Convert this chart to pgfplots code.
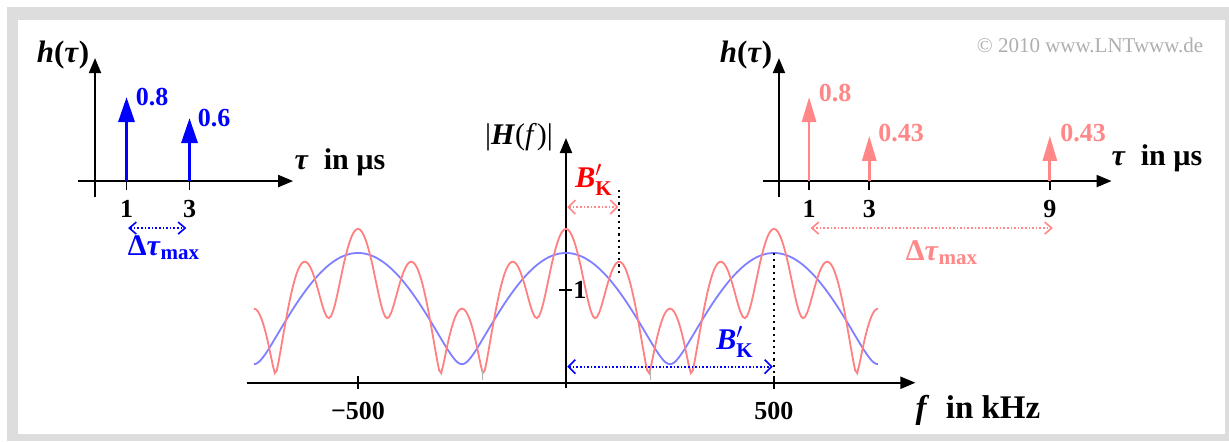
\documentclass[border=0pt]{standalone}
\usepackage{fontspec}
\setmainfont{Liberation Serif}
\usepackage{amsmath}
\usepackage{pgfplots}
\pgfplotsset{compat=1.18}
\usepackage{pgfplotstable}
\usetikzlibrary{arrows.meta}

\definecolor{cred}{RGB}{255,128,128}
\definecolor{cblue}{RGB}{128,128,255}
\definecolor{ablue}{RGB}{0,0,255}
\definecolor{ared}{RGB}{255,135,135}
\definecolor{bred}{RGB}{255,0,0}
\definecolor{framec}{RGB}{221,221,221}
\definecolor{copyc}{RGB}{175,175,175}

\pgfplotstableread{
f r b
-750 0.800 0.200
-745 0.791 0.205
-740 0.766 0.218
-735 0.723 0.239
-730 0.665 0.265
-725 0.592 0.295
-720 0.506 0.328
-715 0.408 0.362
-710 0.301 0.398
-705 0.192 0.435
-700 0.104 0.473
-695 0.135 0.510
-690 0.248 0.548
-685 0.376 0.586
-680 0.506 0.623
-675 0.633 0.660
-670 0.755 0.697
-665 0.869 0.733
-660 0.973 0.769
-655 1.065 0.804
-650 1.144 0.839
-645 1.209 0.873
-640 1.257 0.906
-635 1.289 0.938
-630 1.305 0.969
-625 1.303 1.000
-620 1.285 1.030
-615 1.250 1.058
-610 1.201 1.086
-605 1.139 1.113
-600 1.066 1.139
-595 0.986 1.163
-590 0.903 1.187
-585 0.824 1.209
-580 0.757 1.231
-575 0.711 1.251
-570 0.696 1.270
-565 0.716 1.287
-560 0.770 1.304
-555 0.850 1.319
-550 0.946 1.333
-545 1.052 1.346
-540 1.159 1.357
-535 1.267 1.367
-530 1.360 1.376
-525 1.447 1.383
-520 1.521 1.389
-515 1.581 1.394
-510 1.625 1.397
-505 1.651 1.399
-500 1.660 1.400
-495 1.651 1.399
-490 1.625 1.397
-485 1.581 1.394
-480 1.521 1.389
-475 1.447 1.383
-470 1.360 1.376
-465 1.267 1.367
-460 1.159 1.357
-455 1.052 1.346
-450 0.946 1.333
-445 0.850 1.319
-440 0.770 1.304
-435 0.716 1.287
-430 0.696 1.270
-425 0.711 1.251
-420 0.757 1.231
-415 0.824 1.209
-410 0.903 1.187
-405 0.986 1.163
-400 1.066 1.139
-395 1.139 1.113
-390 1.201 1.086
-385 1.250 1.058
-380 1.285 1.030
-375 1.303 1.000
-370 1.305 0.969
-365 1.289 0.938
-360 1.257 0.906
-355 1.209 0.873
-350 1.144 0.839
-345 1.065 0.804
-340 0.973 0.769
-335 0.869 0.733
-330 0.755 0.697
-325 0.633 0.660
-320 0.506 0.623
-315 0.376 0.586
-310 0.248 0.548
-305 0.135 0.510
-300 0.104 0.473
-295 0.192 0.435
-290 0.301 0.398
-285 0.408 0.362
-280 0.506 0.328
-275 0.592 0.295
-270 0.665 0.265
-265 0.723 0.239
-260 0.766 0.218
-255 0.791 0.205
-250 0.800 0.200
-245 0.791 0.205
-240 0.766 0.218
-235 0.723 0.239
-230 0.665 0.265
-225 0.592 0.295
-220 0.506 0.328
-215 0.408 0.362
-210 0.301 0.398
-205 0.192 0.435
-200 0.104 0.473
-195 0.135 0.510
-190 0.248 0.548
-185 0.376 0.586
-180 0.506 0.623
-175 0.633 0.660
-170 0.755 0.697
-165 0.869 0.733
-160 0.973 0.769
-155 1.065 0.804
-150 1.144 0.839
-145 1.209 0.873
-140 1.257 0.906
-135 1.289 0.938
-130 1.305 0.969
-125 1.303 1.000
-120 1.285 1.030
-115 1.250 1.058
-110 1.201 1.086
-105 1.139 1.113
-100 1.066 1.139
-95 0.986 1.163
-90 0.903 1.187
-85 0.824 1.209
-80 0.757 1.231
-75 0.711 1.251
-70 0.696 1.270
-65 0.716 1.287
-60 0.770 1.304
-55 0.850 1.319
-50 0.946 1.333
-45 1.052 1.346
-40 1.159 1.357
-35 1.267 1.367
-30 1.360 1.376
-25 1.447 1.383
-20 1.521 1.389
-15 1.581 1.394
-10 1.625 1.397
-5 1.651 1.399
0 1.660 1.400
5 1.651 1.399
10 1.625 1.397
15 1.581 1.394
20 1.521 1.389
25 1.447 1.383
30 1.360 1.376
35 1.267 1.367
40 1.159 1.357
45 1.052 1.346
50 0.946 1.333
55 0.850 1.319
60 0.770 1.304
65 0.716 1.287
70 0.696 1.270
75 0.711 1.251
80 0.757 1.231
85 0.824 1.209
90 0.903 1.187
95 0.986 1.163
100 1.066 1.139
105 1.139 1.113
110 1.201 1.086
115 1.250 1.058
120 1.285 1.030
125 1.303 1.000
130 1.305 0.969
135 1.289 0.938
140 1.257 0.906
145 1.209 0.873
150 1.144 0.839
155 1.065 0.804
160 0.973 0.769
165 0.869 0.733
170 0.755 0.697
175 0.633 0.660
180 0.506 0.623
185 0.376 0.586
190 0.248 0.548
195 0.135 0.510
200 0.104 0.473
205 0.192 0.435
210 0.301 0.398
215 0.408 0.362
220 0.506 0.328
225 0.592 0.295
230 0.665 0.265
235 0.723 0.239
240 0.766 0.218
245 0.791 0.205
250 0.800 0.200
255 0.791 0.205
260 0.766 0.218
265 0.723 0.239
270 0.665 0.265
275 0.592 0.295
280 0.506 0.328
285 0.408 0.362
290 0.301 0.398
295 0.192 0.435
300 0.104 0.473
305 0.135 0.510
310 0.248 0.548
315 0.376 0.586
320 0.506 0.623
325 0.633 0.660
330 0.755 0.697
335 0.869 0.733
340 0.973 0.769
345 1.065 0.804
350 1.144 0.839
355 1.209 0.873
360 1.257 0.906
365 1.289 0.938
370 1.305 0.969
375 1.303 1.000
380 1.285 1.030
385 1.250 1.058
390 1.201 1.086
395 1.139 1.113
400 1.066 1.139
405 0.986 1.163
410 0.903 1.187
415 0.824 1.209
420 0.757 1.231
425 0.711 1.251
430 0.696 1.270
435 0.716 1.287
440 0.770 1.304
445 0.850 1.319
450 0.946 1.333
455 1.052 1.346
460 1.159 1.357
465 1.267 1.367
470 1.360 1.376
475 1.447 1.383
480 1.521 1.389
485 1.581 1.394
490 1.625 1.397
495 1.651 1.399
500 1.660 1.400
505 1.651 1.399
510 1.625 1.397
515 1.581 1.394
520 1.521 1.389
525 1.447 1.383
530 1.360 1.376
535 1.267 1.367
540 1.159 1.357
545 1.052 1.346
550 0.946 1.333
555 0.850 1.319
560 0.770 1.304
565 0.716 1.287
570 0.696 1.270
575 0.711 1.251
580 0.757 1.231
585 0.824 1.209
590 0.903 1.187
595 0.986 1.163
600 1.066 1.139
605 1.139 1.113
610 1.201 1.086
615 1.250 1.058
620 1.285 1.030
625 1.303 1.000
630 1.305 0.969
635 1.289 0.938
640 1.257 0.906
645 1.209 0.873
650 1.144 0.839
655 1.065 0.804
660 0.973 0.769
665 0.869 0.733
670 0.755 0.697
675 0.633 0.660
680 0.506 0.623
685 0.376 0.586
690 0.248 0.548
695 0.135 0.510
700 0.104 0.473
705 0.192 0.435
710 0.301 0.398
715 0.408 0.362
720 0.506 0.328
725 0.592 0.295
730 0.665 0.265
735 0.723 0.239
740 0.766 0.218
745 0.791 0.205
750 0.800 0.200
}\hdata

\pgfplotsset{
  myaxis/.style={
    axis lines=middle,
    axis line style={line width=1pt,-{Triangle[length=7.5pt,width=6pt]}},
    clip=false,
    tick style={black,line width=0.8pt},
  },
}

\begin{document}
\begin{tikzpicture}
\useasboundingbox (0,0) rectangle (614.5pt,220.5pt);
\fill[white] (0,0) rectangle (614.5pt,220.5pt);
\fill[framec] (3.5pt,0pt) rectangle (614.5pt,217pt);
\fill[white] (9pt,3.5pt) rectangle (612.5pt,210.5pt);

% ---------- main axis |H(f)|
\begin{axis}[myaxis,
  at={(123.25pt,26.35pt)}, anchor=south west,
  x=0.208pt, y=46.35pt,
  xmin=-768, xmax=840, ymin=-0.06, ymax=2.64,
  xtick={-500,500}, xticklabels={−500,500},
  ytick={1}, yticklabels={},
  tick align=center, major tick length=6.5pt,
  xticklabel style={font=\fontsize{13}{13}\selectfont\bfseries, yshift=-3pt},
]
\addplot[cblue, line width=0.9pt] table[x=f,y=b] {\hdata};
\addplot[cred, line width=0.9pt] table[x=f,y=r] {\hdata};
\addplot[black, dotted, line width=1.1pt] coordinates {(128,2.08) (128,1.16)};
\addplot[black, dotted, line width=1.1pt] coordinates {(500,1.40) (500,0)};
\addplot[gray!60, line width=0.6pt] coordinates {(-200,0.03) (-200,0.14)};
\addplot[gray!60, line width=0.6pt] coordinates {(204,0.03) (204,0.14)};
\addplot[ared, densely dotted, line width=0.8pt,
  {Straight Barb[length=3.5pt,width=7pt]}-{Straight Barb[length=3.5pt,width=7pt]}]
  coordinates {(3,1.895) (126,1.895)};
\addplot[ablue, densely dotted, line width=0.8pt,
  {Straight Barb[length=3.5pt,width=7pt]}-{Straight Barb[length=3.5pt,width=7pt]}]
  coordinates {(3,0.173) (497,0.173)};
\node[anchor=west, inner sep=0pt, xshift=3.5pt, font=\fontsize{13}{13}\selectfont\bfseries] at (axis cs:0,1) {1};
\end{axis}

% ---------- left inset
\begin{axis}[myaxis,
  at={(39pt,122pt)}, anchor=south west,
  x=15.75pt, y=52.5pt,
  xmin=-0.54, xmax=6.29, ymin=-0.152, ymax=1.171,
  xtick={1,3}, xticklabels={1,3}, ytick=\empty,
  tick align=outside, major tick length=4.5pt,
  xticklabel style={font=\fontsize{13}{13}\selectfont\bfseries, yshift=-1.5pt},
]
\addplot[ablue, line width=1.6pt, -{Triangle[length=12.5pt,width=8pt]}] coordinates {(1,0) (1,0.8)};
\addplot[ablue, line width=1.6pt, -{Triangle[length=12.5pt,width=8pt]}] coordinates {(3,0) (3,0.6)};
\addplot[ablue, densely dotted, line width=0.8pt,
  {Straight Barb[length=3.5pt,width=6pt]}-{Straight Barb[length=3.5pt,width=6pt]}]
  coordinates {(1.05,-0.448) (2.9,-0.448)};
\end{axis}

% ---------- right inset
\begin{axis}[myaxis,
  at={(381.35pt,122pt)}, anchor=south west,
  x=15.05pt, y=52.5pt,
  xmin=-0.54, xmax=11.05, ymin=-0.152, ymax=1.171,
  xtick={1,3,9}, xticklabels={1,3,9}, ytick=\empty,
  tick align=outside, major tick length=4.5pt,
  xticklabel style={font=\fontsize{13}{13}\selectfont\bfseries, yshift=-1.5pt},
]
\addplot[ared, line width=1.4pt, -{Triangle[length=12.5pt,width=7pt]}] coordinates {(1,0) (1,0.8)};
\addplot[ared, line width=1.4pt, -{Triangle[length=12.5pt,width=7pt]}] coordinates {(3,0) (3,0.43)};
\addplot[ared, line width=1.4pt, -{Triangle[length=12.5pt,width=7pt]}] coordinates {(9,0) (9,0.43)};
\addplot[ared, densely dotted, line width=0.8pt,
  {Straight Barb[length=3.5pt,width=6pt]}-{Straight Barb[length=3.5pt,width=6pt]}]
  coordinates {(1.05,-0.448) (9.1,-0.448)};
\end{axis}

% ---------- texts
\begin{scope}[every node/.style={inner sep=0pt}]
\node[font=\fontsize{15.5}{16}\selectfont\bfseries] at (31.5pt,193pt) {\textit{h}(\textit{τ})};
\node[font=\fontsize{15}{16}\selectfont\bfseries] at (170pt,139.5pt) {\textit{τ}\ \ in µs};
\node[font=\fontsize{13}{14}\selectfont\bfseries, text=ablue] at (76pt,172pt) {0.8};
\node[font=\fontsize{13}{14}\selectfont\bfseries, text=ablue] at (107pt,161.5pt) {0.6};
\node[font=\fontsize{15}{16}\selectfont\bfseries, text=ablue] at (82pt,96.5pt) {Δ\textit{τ}\textsubscript{max}};

\node[font=\fontsize{15.5}{16}\selectfont\bfseries] at (373pt,193pt) {\textit{h}(\textit{τ})};
\node[font=\fontsize{15}{16}\selectfont\bfseries] at (578.5pt,141.5pt) {\textit{τ}\ \ in µs};
\node[font=\fontsize{13}{14}\selectfont\bfseries, text=ared] at (417.5pt,174pt) {0.8};
\node[font=\fontsize{13}{14}\selectfont\bfseries, text=ared] at (450.5pt,154pt) {0.43};
\node[font=\fontsize{13}{14}\selectfont\bfseries, text=ared] at (541.5pt,154pt) {0.43};
\node[font=\fontsize{15}{16}\selectfont\bfseries, text=ared] at (471pt,94pt) {Δ\textit{τ}\textsubscript{max}};
\node[font=\fontsize{10.5}{11}\selectfont, text=copyc] at (545pt,198pt) {© 2010 www.LNTwww.de};

\node[font=\fontsize{15}{16}\selectfont] at (259.5pt,152pt) {|\textbf{\textit{H}}(\textit{f})|};
\node[font=\fontsize{16.5}{17}\selectfont\bfseries] at (489pt,15.5pt) {\textit{f}\ \ in kHz};
\node[font=\fontsize{15}{16}\selectfont\bfseries, text=bred] at (297pt,130.5pt) {\textit{B}$'_{\textbf{K}}$};
\node[font=\fontsize{15}{16}\selectfont\bfseries, text=ablue] at (367.5pt,49.5pt) {\textit{B}$'_{\textbf{K}}$};
\end{scope}
\end{tikzpicture}
\end{document}
